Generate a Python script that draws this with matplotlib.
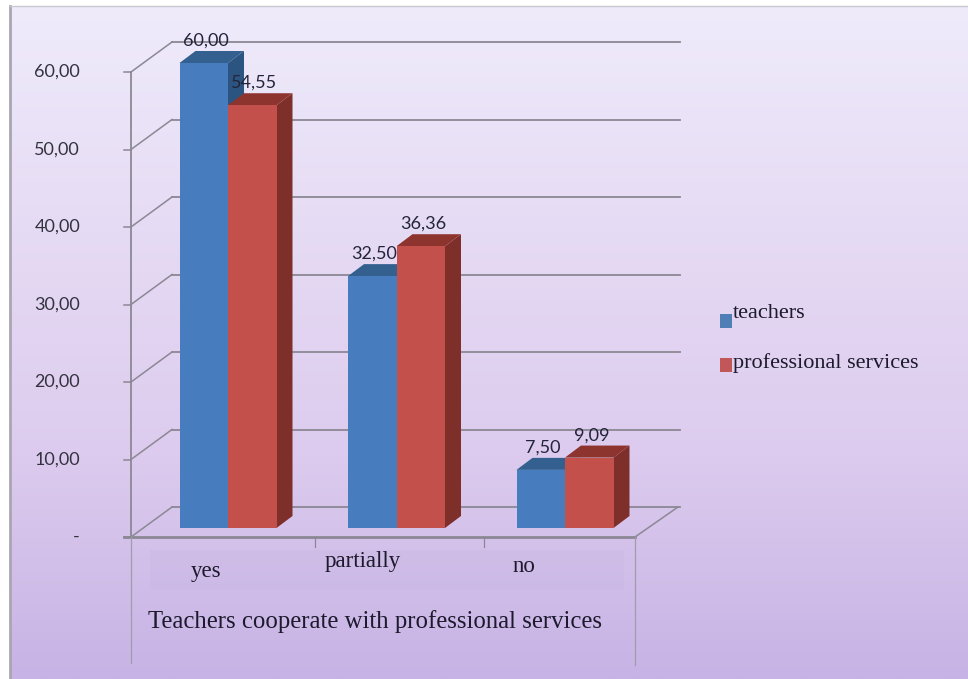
import matplotlib
matplotlib.use('Agg')  # Non-interactive backend (no GUI needed)
import matplotlib.pyplot as plt
import numpy as np
from matplotlib.colors import LinearSegmentedColormap
from matplotlib.patches import Rectangle

categories = ['yes', 'partially', 'no']
teachers = [60.00, 32.50, 7.50]
professional = [54.55, 36.36, 9.09]
y_ticks = [0, 10, 20, 30, 40, 50, 60]
x_title = 'Teachers cooperate with professional services'
series_names = ['teachers', 'professional services']

W, H = 968, 679
SERIF = 'Liberation Serif'
SANS = 'Lato'
GRID = '#8b8894'
TEXT = '#1c1a2c'

# pixel scale of the chart, everything else follows from these
PX_PER_CAT = 168.5
PX_PER_UNIT = 7.75
X0_PX = 228
Y0_PX = 537


def dx(px):
    return px / PX_PER_CAT


def dy(px):
    return px / PX_PER_UNIT


def fmt(val):
    return f'{val:.2f}'.replace('.', ',')


def fig_text(x, y, s, ha='center', **kw):
    fig.text(x / W, 1 - y / H, s, ha=ha, va='center', color=TEXT, **kw)


fig = plt.figure(figsize=(W / 100, H / 100), dpi=100, facecolor='white')

# Gradient background, starts a bit inside the white margin
bg = fig.add_axes([11 / W, 0, (W - 11) / W, 1 - 7 / H], zorder=0)
cmap = LinearSegmentedColormap.from_list('bg', ['#efebfb', '#e6dbf4', '#dccbee', '#c7b3e5'])
bg.imshow(np.linspace(0, 1, 256).reshape(-1, 1), cmap=cmap, aspect='auto')
bg.axis('off')
fig.add_artist(plt.Line2D([10 / W, 10 / W], [0, 1 - 6 / H], color='#a9a6b2', lw=2))
fig.add_artist(plt.Line2D([10 / W, 1], [1 - 6 / H, 1 - 6 / H], color='#c9c7cf', lw=1))

ax = fig.add_axes([0, 0, 1, 1], zorder=1)
ax.patch.set_alpha(0)
ax.set_xlim(-X0_PX / PX_PER_CAT, (W - X0_PX) / PX_PER_CAT)
ax.set_ylim(-(H - Y0_PX) / PX_PER_UNIT, Y0_PX / PX_PER_UNIT)
ax.axis('off')

left = dx(131 - X0_PX)
right = dx(635 - X0_PX)
wall_x = dx(41)
wall_end = dx(680 - X0_PX)
wall_y = dy(30)

# Walls: slanted tick line plus back line for each gridline
for t in y_ticks:
    ax.plot([left, left + wall_x], [t, t + wall_y], color=GRID, lw=1.1, zorder=1)
    ax.plot([left + wall_x, wall_end], [t + wall_y, t + wall_y], color=GRID, lw=1.3, zorder=1)
    ax.plot([left - dx(7), left], [t, t], color=GRID, lw=1.1, zorder=1)
    label = fmt(t) if t else '-'
    ax.text(left - dx(51), t, label, ha='right', va='center', family=SANS,
            fontsize=13, color='#333340')

# Floor and axis frame
ax.plot([left - dx(7), right], [0, 0], color=GRID, lw=2, zorder=1)
ax.plot([right, right + dx(43)], [0, wall_y], color=GRID, lw=1.1, zorder=1)
ax.plot([left, left], [0, 60], color=GRID, lw=1.3, zorder=1)
ax.plot([left, left], [0, dy(-126)], color='#a09cac', lw=0.9, zorder=1)
ax.plot([right, right], [0, dy(-128)], color='#a09cac', lw=0.9, zorder=1)
for i in (0.5, 1.5):
    ax.plot([i + dx(3), i + dx(3)], [0, dy(-10)], color=GRID, lw=0.9, zorder=1)

# Slightly different tint behind the category labels
ax.add_patch(Rectangle((dx(150 - X0_PX), dy(-13)), dx(474), dy(-40),
                       facecolor='#c4b2e0', alpha=0.22, edgecolor='none', zorder=0.5))

# 3D-looking bars
bar_w = dx(48.5)
base = dy(9)
depth_x = dx(16)
depth_y = dy(12)
styles = [
    (teachers, -bar_w, '#477dbe', '#33608f', '#2b5580'),
    (professional, 0, '#c3504a', '#8e342f', '#7e2f2a'),
]
z = 3
for i in range(len(categories)):
    for values, off, front, top, side in styles:
        val = values[i]
        x0 = i + off
        x1 = x0 + bar_w
        y1 = base + val
        ax.fill([x1, x1 + depth_x, x1 + depth_x, x1],
                [base, base + depth_y, y1 + depth_y, y1], color=side, lw=0, zorder=z)
        ax.fill([x0, x0 + depth_x, x1 + depth_x, x1],
                [y1, y1 + depth_y, y1 + depth_y, y1], color=top, lw=0, zorder=z)
        ax.bar(x0, val, bar_w, bottom=base, align='edge', color=front, lw=0, zorder=z)
        z += 1

# Data labels go on top of all bars
for i in range(len(categories)):
    for values, off, *_ in styles:
        ax.annotate(fmt(values[i]), (i + off + bar_w / 2, base + values[i]),
                    xytext=(1.5, 16), textcoords='offset points', ha='center', va='center',
                    family=SANS, fontsize=13, color='#23243a', zorder=20)

# Category labels sit unevenly in the original
cat_pos = [(206, 571), (363, 562), (524, 566)]
for name, (px, py) in zip(categories, cat_pos):
    fig_text(px, py, name, family=SERIF, fontsize=16.5)
fig_text(375, 622, x_title, family=SERIF, fontsize=17.8)

# Legend: the swatches do not line up with their text, so it is placed by hand
for name, color, sw_top, text_y in zip(series_names, ['#4f7fb5', '#c2575a'], [314, 358], [313, 363]):
    fig.add_artist(Rectangle((720 / W, 1 - (sw_top + 14) / H), 12 / W, 14 / H,
                             transform=fig.transFigure, facecolor=color, edgecolor='none'))
    fig_text(733, text_y, name, ha='left', family=SERIF, fontsize=16)

fig.savefig('out.png', dpi=100, facecolor=fig.get_facecolor())
plt.close(fig)
